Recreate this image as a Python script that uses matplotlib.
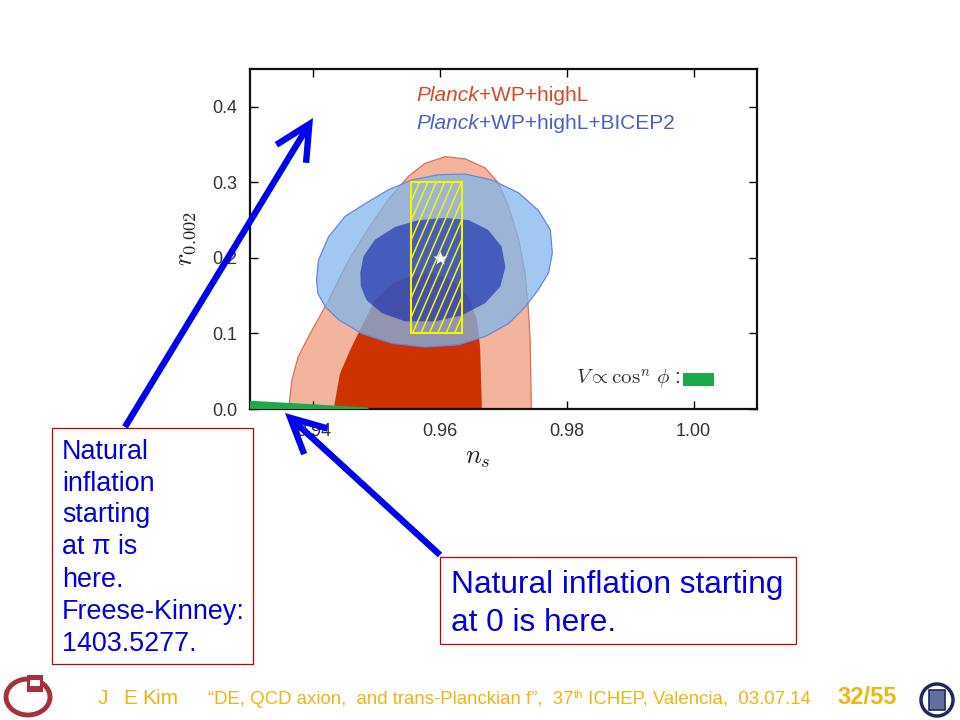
import matplotlib
matplotlib.use("Agg")
import matplotlib.pyplot as plt
from matplotlib.patches import Polygon, Rectangle, FancyArrowPatch, Ellipse, ArrowStyle

W, H = 960, 720

# Planck+WP+highL, 95% region (outer) and 68% region (inner)
red95_ns = [0.9361, 0.9366, 0.9376, 0.9395, 0.9413, 0.9424, 0.9450, 0.9482, 0.9518, 0.9550,
            0.9576, 0.9608, 0.9640, 0.9671, 0.9692, 0.9708, 0.9724, 0.9734, 0.9739, 0.9742,
            0.9744]
red95_r = [0.0, 0.038, 0.069, 0.100, 0.127, 0.144, 0.188, 0.233, 0.277, 0.308,
           0.325, 0.334, 0.331, 0.319, 0.299, 0.268, 0.224, 0.180, 0.135, 0.091,
           0.0]
red68_ns = [0.9432, 0.9442, 0.9458, 0.9476, 0.9497, 0.9524, 0.9555, 0.9587, 0.9618, 0.9645,
            0.9658, 0.9663, 0.9666]
red68_r = [0.0, 0.047, 0.078, 0.109, 0.144, 0.166, 0.177, 0.180, 0.171, 0.149,
           0.118, 0.083, 0.0]

# Planck+WP+highL+BICEP2
blue95_ns = [0.9405, 0.9408, 0.9424, 0.9450, 0.9482, 0.9518, 0.9555, 0.9597, 0.9640, 0.9682,
             0.9724, 0.9755, 0.9774, 0.9777, 0.9771, 0.9755, 0.9734, 0.9708, 0.9671, 0.9629,
             0.9576, 0.9524, 0.9476, 0.9440, 0.9419, 0.9407]
blue95_r = [0.171, 0.197, 0.228, 0.255, 0.272, 0.290, 0.303, 0.310, 0.311, 0.303,
            0.286, 0.263, 0.237, 0.206, 0.180, 0.158, 0.135, 0.113, 0.096, 0.085,
            0.082, 0.087, 0.100, 0.118, 0.135, 0.153]
blue68_ns = [0.9474, 0.9479, 0.9497, 0.9529, 0.9566, 0.9608, 0.9645, 0.9676, 0.9697, 0.9703,
             0.9695, 0.9671, 0.9634, 0.9592, 0.9545, 0.9508, 0.9484, 0.9475]
blue68_r = [0.180, 0.202, 0.224, 0.241, 0.250, 0.253, 0.250, 0.237, 0.215, 0.188,
            0.162, 0.140, 0.124, 0.116, 0.116, 0.127, 0.144, 0.162]

# natural inflation band (V ~ cos^n phi)
green_ns = [0.930, 0.9487, 0.9487, 0.930]
green_r = [0.011, 0.002, 0.0, 0.0]

box_ns = (0.9554, 0.9634)
box_r = (0.10, 0.30)
star_ns, star_r = 0.960, 0.200

xticks = [0.94, 0.96, 0.98, 1.00]
yticks = [0.0, 0.1, 0.2, 0.3, 0.4]

left_lines = ["Natural", "inflation", "starting", "at \u03c0 is", "here.",
              "Freese-Kinney:", "1403.5277."]
right_lines = ["Natural inflation starting", "at 0 is here."]

plt.rcParams['font.family'] = ['Liberation Sans', 'DejaVu Sans']

fig = plt.figure(figsize=(9.6, 7.2), dpi=100)
fig.patch.set_facecolor('white')


def fx(x):
    return x / W


def fy(y):
    return 1 - y / H


ax = fig.add_axes([fx(250), fy(409), 507 / W, 340 / H])
ax.add_patch(Polygon(list(zip(red95_ns, red95_r)), closed=True, facecolor='#f2b49c',
                     edgecolor='#d8705a', lw=0.9, zorder=1))
ax.add_patch(Polygon(list(zip(red68_ns, red68_r)), closed=True, facecolor='#cc3300',
                     edgecolor='none', zorder=2))
ax.add_patch(Polygon(list(zip(blue95_ns, blue95_r)), closed=True, facecolor=(128/255, 182/255, 235/255),
                     alpha=0.75, edgecolor='none', zorder=3))
ax.add_patch(Polygon(list(zip(blue95_ns, blue95_r)), closed=True, facecolor='none',
                     edgecolor='#6a86d8', lw=0.9, zorder=3))
ax.add_patch(Polygon(list(zip(blue68_ns, blue68_r)), closed=True, facecolor=(13/255, 33/255, 173/255),
                     alpha=0.6, edgecolor='none', zorder=4))

# hatched box, steep yellow hatching clipped to the box
yellow = '#f5f500'
rect = Rectangle((box_ns[0], box_r[0]), box_ns[1] - box_ns[0], box_r[1] - box_r[0],
                 facecolor='none', edgecolor=yellow, lw=1.5, zorder=5)
ax.add_patch(rect)
px_ns = (1.01 - 0.93) / 507
px_r = 0.45 / 340
slope = 2.3
h_px = (box_r[1] - box_r[0]) / px_r
c = box_ns[0] - h_px / slope * px_ns
while c < box_ns[1]:
    ln, = ax.plot([c, c + h_px / slope * px_ns], [box_r[0], box_r[1]], color=yellow,
                  lw=1.1, zorder=5)
    ln.set_clip_path(rect)
    c += 8.4 * px_ns

ax.plot([star_ns], [star_r], marker='*', color='white', markersize=10, mec='none', zorder=6)
ax.add_patch(Polygon(list(zip(green_ns, green_r)), closed=True, facecolor='#1ea84a',
                     edgecolor='none', zorder=6))

ax.set_xlim(0.93, 1.01)
ax.set_ylim(0.0, 0.45)
ax.set_xticks(xticks)
ax.set_xticklabels(['%.2f' % v for v in xticks])
ax.set_yticks(yticks)
ax.set_yticklabels(['%.1f' % v for v in yticks])
ax.tick_params(direction='in', length=6, width=1, top=True, right=True,
               labelsize=13, labelcolor='#333333')
ax.tick_params(axis='x', pad=10)
ax.tick_params(axis='y', pad=9)
for s in ax.spines.values():
    s.set_linewidth(1.6)
    s.set_color('#111111')

ax.set_xlabel(r'$n_s$', fontsize=19, math_fontfamily='cm', color='#222222')
ax.xaxis.set_label_coords(0.45, -0.11)
ax.set_ylabel(r'$r_{0.002}$', fontsize=19, math_fontfamily='cm', color='#222222')
ax.yaxis.set_label_coords(-0.103, 0.5)

renderer = fig.canvas.get_renderer()


def chain(x, y, pieces):
    # place text pieces one after another on a common baseline (figure fraction)
    for txt, kw in pieces:
        t = fig.text(x, y, txt, va='baseline', ha='left', **kw)
        x += t.get_window_extent(renderer).width / W


# legend text inside the plot
red_c, blue_c = '#d9472b', '#4a5fc1'
for yy, c, rest in [(0.4075, red_c, '+WP+highL'), (0.371, blue_c, '+WP+highL+BICEP2')]:
    px0, py0 = ax.transData.transform((0.9562, yy))
    chain(px0 / W, py0 / H,
          [('Planck', dict(color=c, fontsize=15, style='italic')),
           (rest, dict(color=c, fontsize=15))])

ax.text(0.9979, 0.033, r'$V \propto \cos^n\,\phi$ :', ha='right', va='baseline',
        fontsize=15, math_fontfamily='cm', color='#333333')
ax.add_patch(Rectangle((0.9983, 0.030), 0.0049, 0.0176, facecolor='#1ea84a',
                       edgecolor='none', zorder=6))

# arrows
blue = '#0000f0'
astyle = ArrowStyle('->', head_length=2.5, head_width=1.25)
for (x0, y0), (x1, y1) in [((125, 427), (313, 118)), ((440, 555), (285, 413))]:
    fig.patches.append(FancyArrowPatch((fx(x0), fy(y0)), (fx(x1), fy(y1)),
                                       transform=fig.transFigure, arrowstyle=astyle,
                                       mutation_scale=10, lw=4.6, color=blue,
                                       shrinkA=0, shrinkB=0,
                                       joinstyle='miter', capstyle='butt', zorder=10))

# text boxes
fig.patches.append(Rectangle((fx(52), fy(664)), 201 / W, 236 / H, transform=fig.transFigure,
                             facecolor='white', edgecolor='#c00000', lw=0.9, zorder=2))
for line, base in zip(left_lines, [459.3, 491, 521.7, 554.3, 586.7, 619, 651]):
    fig.text(fx(62), fy(base), line, va='baseline', ha='left', fontsize=19.4,
             color='#0000dd', zorder=11)
fig.patches.append(Rectangle((fx(440), fy(644)), 356 / W, 87 / H, transform=fig.transFigure,
                             facecolor='white', edgecolor='#c00000', lw=0.9, zorder=2))
for line, base in zip(right_lines, [592.7, 631]):
    fig.text(fx(451), fy(base), line, va='baseline', ha='left', fontsize=22.8,
             color='#0000dd', zorder=11)

# footer
gold = '#f0b414'
for txt, xx in [('J', 98), ('E', 123), ('Kim', 142)]:
    fig.text(fx(xx), fy(704), txt, va='baseline', fontsize=15, color=gold)
p1 = '\u201cDE, QCD axion,  and trans-Planckian f\u201d,  37'
p3 = ' ICHEP, Valencia,  03.07.14'
base_fs = 12.0
tmp = [fig.text(0, 0, p, fontsize=base_fs * k) for p, k in [(p1, 1), ('th', 0.6), (p3, 1)]]
total = sum(t.get_window_extent(renderer).width for t in tmp)
for t in tmp:
    t.remove()
fs = base_fs * (812 - 208) / total
x = fx(208)
for p, k, dy in [(p1, 1, 0), ('th', 0.6, 6), (p3, 1, 0)]:
    t = fig.text(x, fy(704 - dy), p, va='baseline', fontsize=fs * k, color=gold)
    x += t.get_window_extent(renderer).width / W
fig.text(fx(837), fy(704), '32/55', va='baseline', fontsize=17, weight='bold', color=gold)

# logos (rough emblems)
maroon = '#a8303c'
fig.patches.append(Ellipse((fx(28), fy(697)), 44 / W, 36 / H, transform=fig.transFigure,
                           facecolor='none', edgecolor=maroon, lw=3.5, zorder=3))
fig.patches.append(Rectangle((fx(27), fy(692)), 16 / W, 17 / H, transform=fig.transFigure,
                             facecolor=maroon, edgecolor='none', zorder=4))
fig.patches.append(Rectangle((fx(30), fy(686)), 10 / W, 6 / H, transform=fig.transFigure,
                             facecolor='white', edgecolor='none', zorder=5))
navy = '#1e2a5e'
fig.patches.append(Ellipse((fx(937), fy(700)), 32 / W, 32 / H, transform=fig.transFigure,
                           facecolor='none', edgecolor=navy, lw=2.5, zorder=3))
fig.patches.append(Rectangle((fx(929), fy(710)), 16 / W, 20 / H, transform=fig.transFigure,
                             facecolor='#6070a0', edgecolor=navy, lw=1.2, zorder=4))

fig.savefig('out.png', dpi=100, facecolor='white')
